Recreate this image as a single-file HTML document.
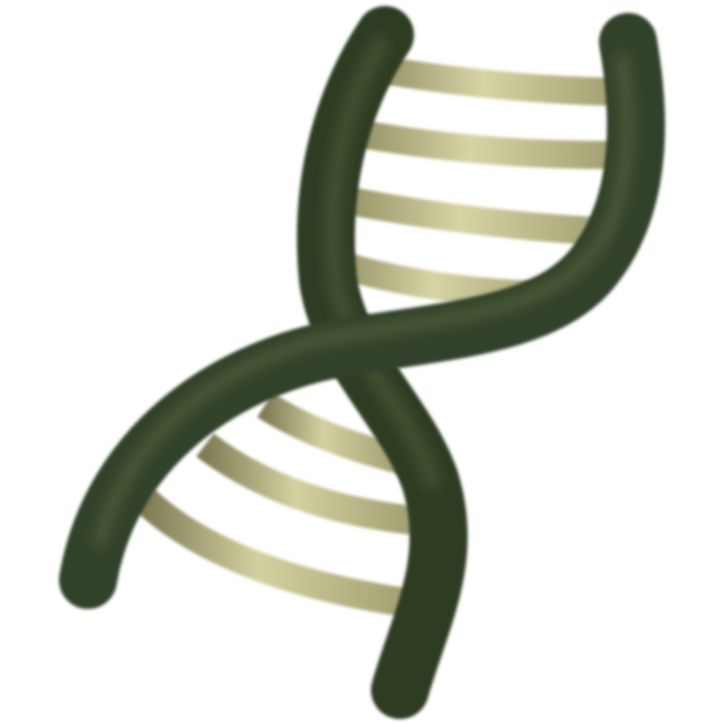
<!DOCTYPE html>
<html><head><meta charset="utf-8"><style>
html,body{margin:0;padding:0;background:#fff;width:723px;height:724px;overflow:hidden}
</style></head><body>
<svg width="723" height="724" viewBox="0 0 723 724" xmlns="http://www.w3.org/2000/svg">
<defs>
<linearGradient id="rung" x1="0" y1="0" x2="1" y2="0">
<stop offset="0" stop-color="#8f8c62"/><stop offset="0.45" stop-color="#d6d4a4"/><stop offset="1" stop-color="#a09d70"/>
</linearGradient>
<linearGradient id="rungB" x1="0" y1="0" x2="1" y2="0">
<stop offset="0" stop-color="#7f7c55"/><stop offset="0.4" stop-color="#d3d1a0"/><stop offset="1" stop-color="#9a976a"/>
</linearGradient>
<filter id="soft" filterUnits="userSpaceOnUse" x="0" y="0" width="723" height="724"><feGaussianBlur stdDeviation="1.5"/></filter>
<filter id="soft2" filterUnits="userSpaceOnUse" x="0" y="0" width="723" height="724"><feGaussianBlur stdDeviation="6"/></filter>
</defs>
<g fill="none" stroke="url(#rung)" stroke-width="28" stroke-linecap="butt" filter="url(#soft)">
<path d="M370 68 Q500 90 620 92"/>
<path d="M350 132 Q480 156 618 155"/>
<path d="M335 198 Q470 225 612 232"/>
<path d="M330 262 Q440 295 560 295"/>
</g>
<g fill="none" stroke="url(#rungB)" stroke-width="29" filter="url(#soft)">
<path d="M265 405 Q320 440 410 462"/>
<path d="M205 445 Q290 510 430 522"/>
<path d="M145 500 Q230 580 430 606"/>
</g>
<g filter="url(#soft)">
<path d="M385 35 C345 95 318 180 328 280 C340 360 405 410 430 480 C455 560 420 620 400 690" fill="none" stroke="#2f3d24" stroke-width="58" stroke-linecap="round"/>
<path d="M380 45 C345 105 325 180 335 280 C350 360 410 410 432 480" fill="none" stroke="#4f5e38" stroke-width="16" stroke-linecap="round" opacity="0.6" filter="url(#soft2)"/>
</g>
<g filter="url(#soft)">
<path d="M628 42 C640 110 645 200 595 265 C550 325 450 330 340 348 C220 370 110 450 88 580" fill="none" stroke="#33422a" stroke-width="58" stroke-linecap="round"/>
<path d="M622 60 C632 130 630 210 590 255 C545 310 450 318 340 336 C230 356 130 430 100 540" fill="none" stroke="#5b6b40" stroke-width="14" stroke-linecap="round" opacity="0.55" filter="url(#soft2)"/>
</g>
</svg>
</body></html>
